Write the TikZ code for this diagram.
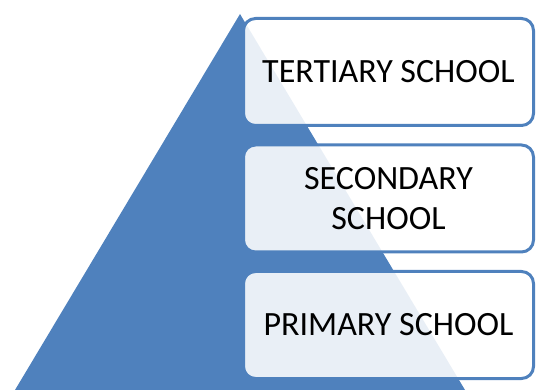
\documentclass[tikz,border=0pt]{standalone}
\usepackage{fontspec}
\setmainfont{Carlito}
\definecolor{triblue}{HTML}{4F81BD}
\tikzset{
  levelbox/.style={draw=triblue, line width=3pt, fill=white, fill opacity=0.88, text opacity=1,
    rounded corners=12pt, minimum width=290pt, minimum height=107pt, inner sep=0pt,
    align=center, font=\fontsize{34}{40}\selectfont, text=black},
  tri/.style={fill=triblue, draw=none}
}
\begin{document}
\begin{tikzpicture}[x=1pt,y=-1pt]
\useasboundingbox (0,0) rectangle (536,390);
\coordinate (apex) at (240,14);
\coordinate (bl) at (15,390);
\coordinate (br) at (465,390);
\fill[tri] (apex) -- (bl) -- (br) -- cycle;
\node[levelbox] (tertiary) at (388.5,72) {TERTIARY SCHOOL};
\node[levelbox] (secondary) at (388.5,198.5) {SECONDARY\\SCHOOL};
\node[levelbox] (primary) at (388.5,325) {PRIMARY SCHOOL};
\end{tikzpicture}
\end{document}
